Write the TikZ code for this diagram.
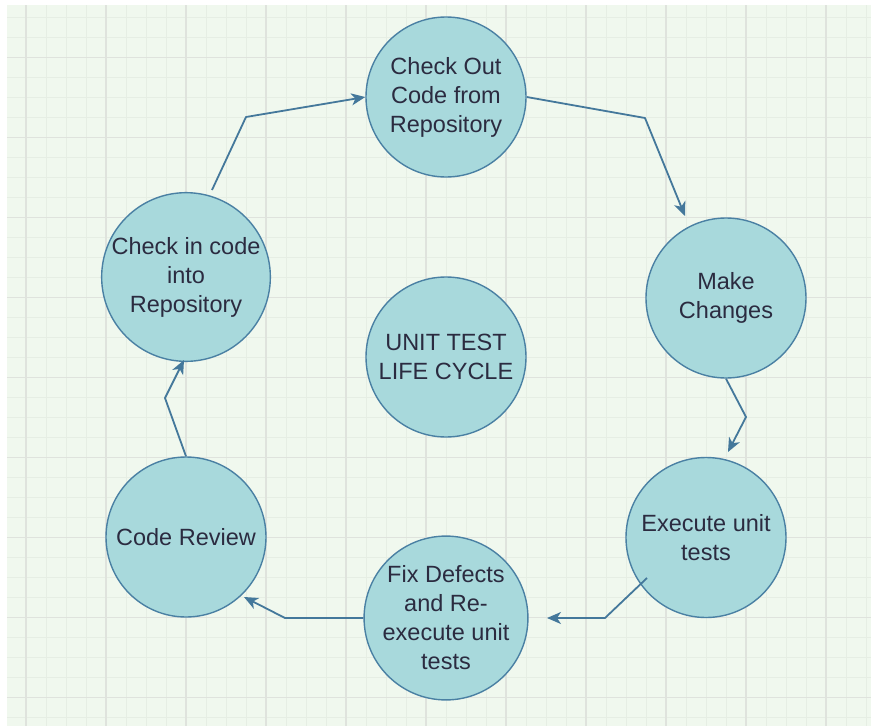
\documentclass[tikz,border=0pt]{standalone}
\usepackage{fontspec}
\setmainfont{Liberation Sans}
\usetikzlibrary{arrows.meta}
\definecolor{bg}{HTML}{F0F8EE}
\definecolor{minorgrid}{HTML}{E6EEE4}
\definecolor{majorgrid}{HTML}{DFE3DD}
\definecolor{cfill}{HTML}{A8D9DC}
\definecolor{cline}{HTML}{4A80A3}
\definecolor{aline}{HTML}{44789B}
\definecolor{txt}{HTML}{2B2B40}
\begin{document}
\begin{tikzpicture}[x=1pt,y=-1pt,
  stage/.style={circle, draw=cline, line width=1.4pt, fill=cfill, minimum size=160pt,
    inner sep=0pt, align=center, font=\fontsize{23.5}{29}\selectfont, text=txt},
  flow/.style={draw=aline, line width=1.8pt, line join=round,
    -{Stealth[length=14pt,width=12pt,inset=4pt]}},
  minorline/.style={draw=minorgrid, line width=0.8pt},
  majorline/.style={draw=majorgrid, line width=1.1pt}]
\useasboundingbox (0,0) rectangle (871,726);
\fill[white] (0,0) rectangle (871,726);
\fill[bg] (7,5) rectangle (871,726);
% grid
\foreach \x in {26,46,...,866} \draw[minorline] (\x,5) -- (\x,726);
\foreach \y in {17.5,37.5,...,717.5} \draw[minorline] (7,\y) -- (871,\y);
\foreach \x in {26,106,...,826} \draw[majorline] (\x,5) -- (\x,726);
\foreach \y in {57.5,137.5,...,697.5} \draw[majorline] (7,\y) -- (871,\y);
% stages
\node[stage] (co) at (446,97) {Check Out\\Code from\\Repository};
\node[stage] (mc) at (726,298) {Make\\Changes};
\node[stage] (ex) at (706,537.5) {Execute unit\\tests};
\node[stage] (fd) at (446,618) {Fix Defects\\and Re-\\execute unit\\tests};
\node[stage] (cr) at (186,537) {Code Review};
\node[stage] (ci) at (186,277) {Check in code\\into\\Repository};
\node[stage] (ut) at (446,357) {UNIT TEST\\LIFE CYCLE};
% waypoints
\coordinate (b1) at (645,118);
\coordinate (t1) at (685,216);
\coordinate (b2) at (746,417);
\coordinate (t2) at (728,452);
\coordinate (s3) at (647,578);
\coordinate (b3) at (605,618);
\coordinate (t3) at (547,618);
\coordinate (b4) at (285,618);
\coordinate (t4) at (244,597);
\coordinate (b5) at (165,398);
\coordinate (t5) at (184,360);
\coordinate (s6) at (212,190);
\coordinate (b6) at (246,117);
% connectors
\draw[flow] (co.east) -- (b1) -- (t1);
\draw[flow] (mc.south) -- (b2) -- (t2);
\draw[flow] (s3) -- (b3) -- (t3);
\draw[flow] (fd.west) -- (b4) -- (t4);
\draw[flow] (cr.north) -- (b5) -- (t5);
\draw[flow] (s6) -- (b6) -- (co.west);
\end{tikzpicture}
\end{document}
